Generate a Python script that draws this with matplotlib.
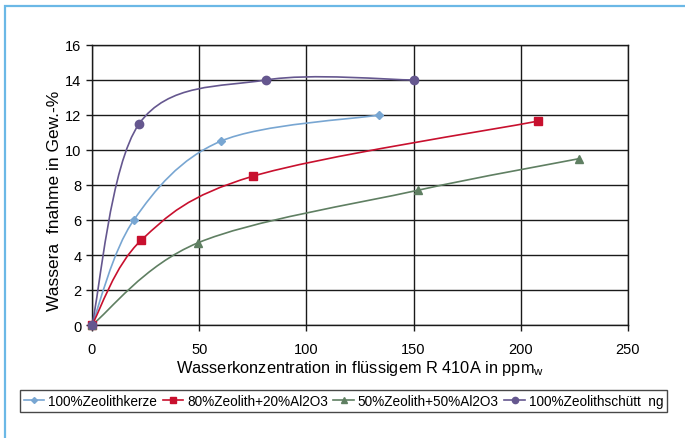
#-*- coding:utf-8 -*-

# Importation des modules
import numpy as np
import matplotlib
matplotlib.use("Agg")
import matplotlib.pyplot as plt
from matplotlib.path import Path
from matplotlib.patches import PathPatch, Rectangle
from matplotlib.lines import Line2D


# Données
x_kerze = [0, 19.5, 60, 134]
y_kerze = [0, 6.0, 10.5, 12.0]

x_80_20 = [0, 23, 75, 208]
y_80_20 = [0, 4.85, 8.5, 11.65]

x_50_50 = [0, 49.5, 152, 227]
y_50_50 = [0, 4.7, 7.7, 9.5]

x_schuett = [0, 22, 81, 150]
y_schuett = [0, 11.5, 14.0, 14.0]

labels = [
	"100%Zeolithkerze",
	"80%Zeolith+20%Al2O3",
	"50%Zeolith+50%Al2O3",
	"100%Zeolithschütt  ng",
]
colors = ["#78A6D2", "#C8102E", "#5F7F62", "#65578F"]
markers = ["D", "s", "^", "o"]
marker_sizes = [4, 5.5, 5.5, 6]


def smooth_path(x, y) -> Path:
	"""
	Construit une courbe lissée (type Excel) passant par les points donnés,
	avec des segments de Bézier cubiques.
	"""
	p = np.column_stack([x, y]).astype(float)
	n = len(p)
	verts = [p[0]]
	codes = [Path.MOVETO]
	for i in range(n - 1):
		p_prev = p[i - 1] if i > 0 else p[i]
		p_next2 = p[i + 2] if i + 2 < n else p[i + 1]
		c1 = p[i] + (p[i + 1] - p_prev) / 6.0
		c2 = p[i + 1] - (p_next2 - p[i]) / 6.0
		verts += [c1, c2, p[i + 1]]
		codes += [Path.CURVE4] * 3
	return Path(verts, codes)


# Création de la figure
W, H = 685, 439
fig = plt.figure(figsize=(W / 100, H / 100), dpi=100)
plt.rcParams["font.family"] = ["Liberation Sans", "DejaVu Sans"]

# Cadre bleu clair autour de la figure (bords droit et bas hors image)
fig.patches.append(Rectangle(
	(5 / W, -0.05), 1.0, 1 - 7 / H + 0.05,
	transform=fig.transFigure, fill=False,
	edgecolor="#6BB8E6", linewidth=1.6
))

ax = fig.add_axes([92 / W, 1 - 326 / H, 536 / W, 280 / H])

series = [
	(x_kerze, y_kerze),
	(x_80_20, y_80_20),
	(x_50_50, y_50_50),
	(x_schuett, y_schuett),
]

# Tracé des courbes lissées et des marqueurs
handles = []
for (xs, ys), color, marker, ms, label in zip(series, colors, markers, marker_sizes, labels):
	ax.add_patch(PathPatch(
		smooth_path(xs, ys), facecolor="none",
		edgecolor=color, linewidth=1.2, zorder=3
	))
	ax.plot(
		xs, ys, linestyle="none", marker=marker,
		markersize=ms, color=color, zorder=4, clip_on=False
	)
	handles.append(Line2D(
		[], [], color=color, marker=marker,
		markersize=ms * 0.75, linewidth=1.2, label=label
	))

# Axes et grille
ax.set_xlim(0, 250)
ax.set_ylim(0, 16)
ax.set_xticks(np.arange(0, 251, 50))
ax.set_yticks(np.arange(0, 17, 2))
ax.grid(True, color="#1a1a1a", linewidth=1.0)
ax.set_axisbelow(True)
for spine in ax.spines.values():
	spine.set_color("#1a1a1a")
	spine.set_linewidth(1.0)
ax.tick_params(
	direction="out", length=4, width=1.0,
	color="#1a1a1a", labelsize=10.5
)
ax.tick_params(axis="y", pad=3.5)
ax.tick_params(axis="x", pad=8)

# Annotation de la figure
ax.set_xlabel(
	"Wasserkonzentration in flüssigem R 410A in ppm$_\\mathregular{w}$",
	fontsize=11.8, labelpad=2
)
ax.set_ylabel("Wassera  fnahme in Gew.-%", fontsize=12.5)
ax.yaxis.set_label_coords((55 - 92) / 536, (326 - 201) / 280)
ax.yaxis.label.set_va("center")

# Légende en bas
leg = fig.legend(
	handles=handles, loc="center",
	bbox_to_anchor=(343.5 / W, 1 - 402 / H),
	ncol=4, fontsize=9.8, frameon=True, fancybox=False,
	edgecolor="#1a1a1a", handlelength=1.5, handletextpad=0.3,
	columnspacing=0.4, borderpad=0.3, borderaxespad=0
)
leg.get_frame().set_linewidth(1.0)

# Sauvegarde de la figure
fig.savefig("out.png", dpi=100)
